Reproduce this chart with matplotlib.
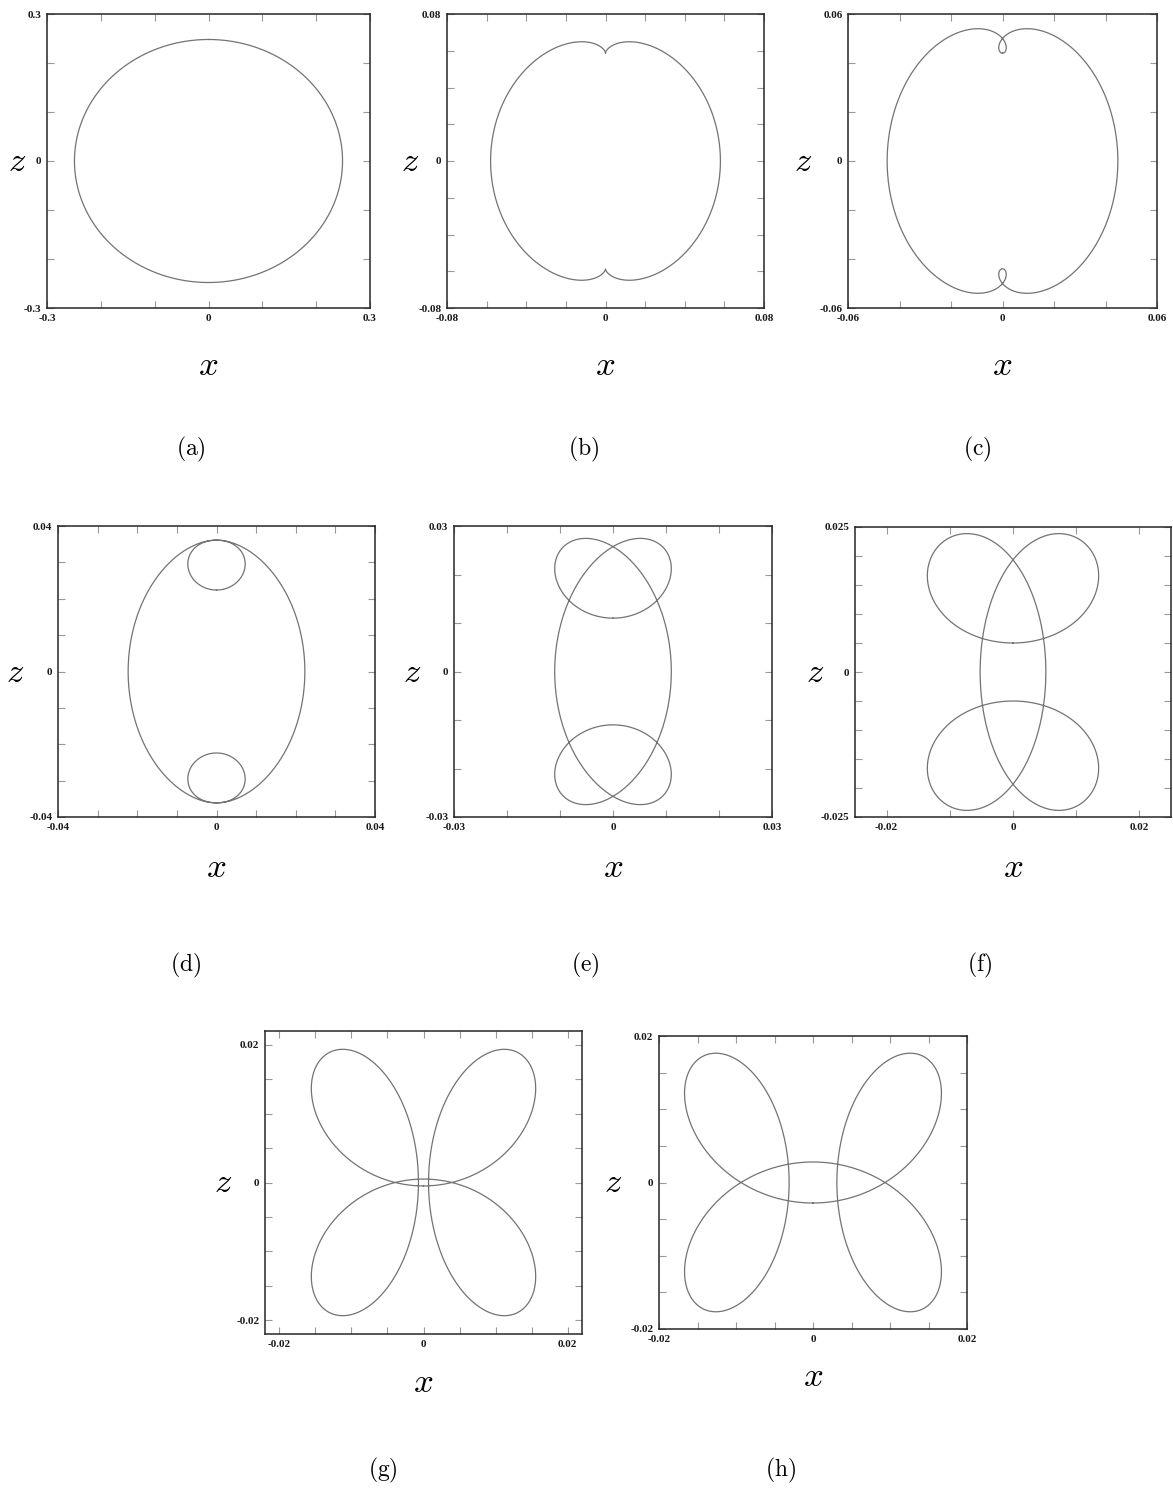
import numpy as np
import matplotlib
matplotlib.use("Agg")
import matplotlib.pyplot as plt

plt.rcParams["mathtext.fontset"] = "cm"

# ---- orbit data: x = xs1 sin t + xs3 sin 3t + xs5 sin 5t,  z = zc1 cos t + zc3 cos 3t ----
panel_tags = ["(a)", "(b)", "(c)", "(d)", "(e)", "(f)", "(g)", "(h)"]
x_sin1 = [0.249, 0.0435, 0.0313, 0.0103, 0.0, -0.00496, 0.01055, 0.01275]
x_sin3 = [0.0, -0.0145, -0.0135, -0.0120, -0.0110, -0.01076, 0.00985, 0.00965]
x_sin5 = [0.0, 0.0, 0.0, 0.0, 0.0, -0.0006, 0.0, 0.0]
z_cos1 = [0.248, 0.0743, 0.0600, 0.03668, 0.0245, 0.01858, 0.01225, 0.0097]
z_cos3 = [0.0, -0.0155, -0.0160, -0.01428, -0.0135, -0.01358, -0.01275, -0.0125]

# axis ranges and tick spacing
x_lim = [0.3, 0.08, 0.06, 0.04, 0.03, 0.025, 0.022, 0.02]
z_lim = [0.3, 0.08, 0.06, 0.04, 0.03, 0.025, 0.022, 0.02]
x_step = [0.1, 0.02, 0.02, 0.01, 0.01, 0.01, 0.005, 0.005]
z_step = [0.1, 0.02, 0.02, 0.01, 0.01, 0.005, 0.005, 0.005]
x_labels = [("-0.3", "0", "0.3"), ("-0.08", "0", "0.08"), ("-0.06", "0", "0.06"),
            ("-0.04", "0", "0.04"), ("-0.03", "0", "0.03"), ("-0.02", "0", "0.02"),
            ("-0.02", "0", "0.02"), ("-0.02", "0", "0.02")]
z_labels = [("-0.3", "0", "0.3"), ("-0.08", "0", "0.08"), ("-0.06", "0", "0.06"),
            ("-0.04", "0", "0.04"), ("-0.03", "0", "0.03"), ("-0.025", "0", "0.025"),
            ("-0.02", "0", "0.02"), ("-0.02", "0", "0.02")]

# ---- layout (pixels: left, top, right, bottom) ----
W, H = 1173, 1489
boxes = [(47, 14, 370, 308), (447, 14, 764, 308), (848, 14, 1157, 308),
         (58, 526, 375, 817), (454, 526, 772, 817), (855, 527, 1171, 817),
         (265, 1031, 582, 1334), (659, 1036, 967, 1329)]
tag_pos = [(191, 449), (584, 449), (977, 449),
           (186, 965), (585, 965), (980, 965),
           (383, 1470), (781, 1470)]
zlab_off = [30, 37, 45, 43, 42, 40, 42, 46]
xlab_off = [57, 57, 57, 50, 50, 50, 48, 47]

fig = plt.figure(figsize=(W / 100, H / 100), dpi=100)
t = np.linspace(0, 2 * np.pi, 3000)
tick_font = dict(family="Liberation Serif", size=8, weight="bold")

for k in range(8):
    l, tp, r, b = boxes[k]
    ax = fig.add_axes([l / W, 1 - b / H, (r - l) / W, (b - tp) / H])
    x = x_sin1[k] * np.sin(t) + x_sin3[k] * np.sin(3 * t) + x_sin5[k] * np.sin(5 * t)
    z = z_cos1[k] * np.cos(t) + z_cos3[k] * np.cos(3 * t)
    ax.plot(x, z, color="0.45", lw=0.9)
    ax.set_xlim(-x_lim[k], x_lim[k])
    ax.set_ylim(-z_lim[k], z_lim[k])

    # ticks every step, labels only at the ends and at zero
    for axis, lim, step, labs in ((ax.xaxis, x_lim[k], x_step[k], x_labels[k]),
                                  (ax.yaxis, z_lim[k], z_step[k], z_labels[k])):
        n = int(np.floor(lim / step + 1e-6))
        ticks = [round(i * step, 6) for i in range(-n, n + 1)]
        end = float(labs[2])
        names = []
        for v in ticks:
            if abs(v + end) < 1e-9:
                names.append(labs[0])
            elif abs(v) < 1e-9:
                names.append(labs[1])
            elif abs(v - end) < 1e-9:
                names.append(labs[2])
            else:
                names.append("")
        axis.set_ticks(ticks)
        axis.set_ticklabels(names, fontdict=tick_font)

    ax.tick_params(direction="in", length=5, width=0.8, color="0.6",
                   top=True, right=True, pad=4, labelcolor="0.1")
    for s in ax.spines.values():
        s.set_color("0.15")
        s.set_linewidth(1.1)

    ax.annotate(r"$z$", xy=(0, 0.5), xycoords="axes fraction",
                xytext=(-zlab_off[k], 0), textcoords="offset pixels",
                ha="center", va="center", fontsize=25)
    ax.annotate(r"$x$", xy=(0.5, 0), xycoords="axes fraction",
                xytext=(0, -xlab_off[k]), textcoords="offset pixels",
                ha="center", va="center", fontsize=25)

    px, py = tag_pos[k]
    fig.text(px / W, 1 - py / H, r"$\mathrm{%s}$" % panel_tags[k],
             ha="center", va="center", fontsize=17)

fig.savefig("out.png", dpi=100)
